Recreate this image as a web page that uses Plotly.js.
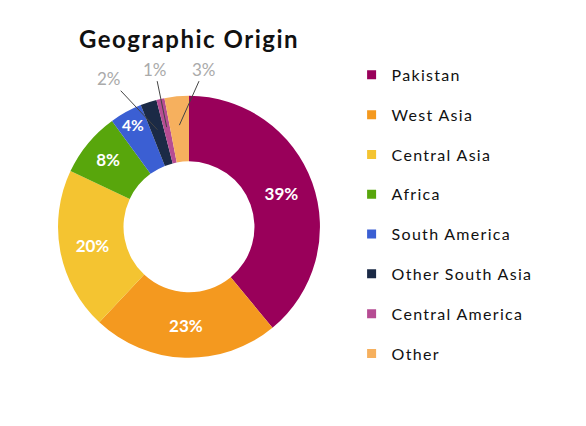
<!DOCTYPE html>
<html>
<head>
<meta charset="utf-8">
<script src="https://cdn.plot.ly/plotly-3.0.1.min.js"></script>
<style>
html,body{margin:0;padding:0;background:#fff;}
#chart{width:586px;height:426px;}
.legendtext{letter-spacing:1.3px;}
.gtitle{letter-spacing:1.5px;}
</style>
</head>
<body>
<div id="chart"></div>
<script>
const categories = ['Pakistan', 'West Asia', 'Central Asia', 'Africa', 'South America', 'Other South Asia', 'Central America', 'Other'];
const shares = [39, 23, 20, 8, 4, 2, 1, 3];
const colors = ['#99005a', '#f4991f', '#f4c431', '#58a60c', '#3b5fd3', '#1b2a46', '#b64c93', '#f6b05e'];
const insideLabel = [true, true, true, true, true, false, false, false];
// pixel offsets (text relative to the slice point) for the small outside labels
const calloutOffsets = {5: [-48, -51], 6: [-12, -58], 7: [25, -56]};

const FONT = 'Lato, "Open Sans", sans-serif';
const W = 586, H = 426;
const domain = {x: [0.099, 0.546], y: [0.16, 0.775]};

const pie = {
  type: 'pie',
  labels: categories,
  values: shares,
  sort: false,
  direction: 'clockwise',
  rotation: 0,
  hole: 0.5,
  marker: {colors: colors, line: {width: 0}},
  textinfo: 'percent',
  textposition: insideLabel.map(b => b ? 'inside' : 'none'),
  insidetextorientation: 'horizontal',
  insidetextfont: {family: FONT, size: 17, color: '#ffffff', weight: 'bold'},
  domain: domain,
  showlegend: false,
  hoverinfo: 'label+percent'
};

const legendTraces = categories.map((c, i) => ({
  type: 'scatter',
  mode: 'markers',
  x: [null], y: [null],
  name: c,
  legendgroup: 'g' + i,
  marker: {symbol: 'square', size: 9, color: colors[i]},
  showlegend: true
}));

// callout annotations for the small slices, anchored on each slice's mid-angle
const total = shares.reduce((a, b) => a + b, 0);
const cx = (domain.x[0] + domain.x[1]) / 2, cy = (domain.y[0] + domain.y[1]) / 2;
const R = Math.min((domain.x[1] - domain.x[0]) * W, (domain.y[1] - domain.y[0]) * H) / 2;
const annotations = [];
let cum = 0;
shares.forEach((v, i) => {
  const mid = (cum + v / 2) / total;
  cum += v;
  if (insideLabel[i]) return;
  const th = mid * 2 * Math.PI;
  const r = 0.78 * R;
  const off = calloutOffsets[i];
  annotations.push({
    xref: 'paper', yref: 'paper',
    x: cx + r * Math.sin(th) / W,
    y: cy + r * Math.cos(th) / H,
    text: Math.round(v / total * 100) + '%',
    font: {family: FONT, size: 17, color: '#aaaaaa'},
    showarrow: true, arrowhead: 0, arrowwidth: 1, arrowcolor: '#444444',
    standoff: 0, startstandoff: 0,
    ax: off[0], ay: off[1]
  });
});

const layout = {
  width: W, height: H,
  margin: {l: 0, r: 0, t: 0, b: 0},
  paper_bgcolor: '#ffffff',
  plot_bgcolor: '#ffffff',
  font: {family: FONT, color: '#111111'},
  title: {
    text: '<b>Geographic Origin</b>',
    font: {family: FONT, size: 24, color: '#111111'},
    x: 189 / W, xanchor: 'center', xref: 'container',
    y: 1 - 40 / H, yanchor: 'middle', yref: 'container'
  },
  showlegend: true,
  legend: {
    x: 0.600, xanchor: 'left',
    y: 0.864, yanchor: 'top',
    traceorder: 'grouped',
    tracegroupgap: 16,
    font: {family: FONT, size: 16, color: '#111111'},
    bgcolor: 'rgba(0,0,0,0)'
  },
  annotations: annotations,
  xaxis: {visible: false},
  yaxis: {visible: false}
};

Plotly.newPlot('chart', [pie].concat(legendTraces), layout, {displayModeBar: false, staticPlot: true});
</script>
</body>
</html>
